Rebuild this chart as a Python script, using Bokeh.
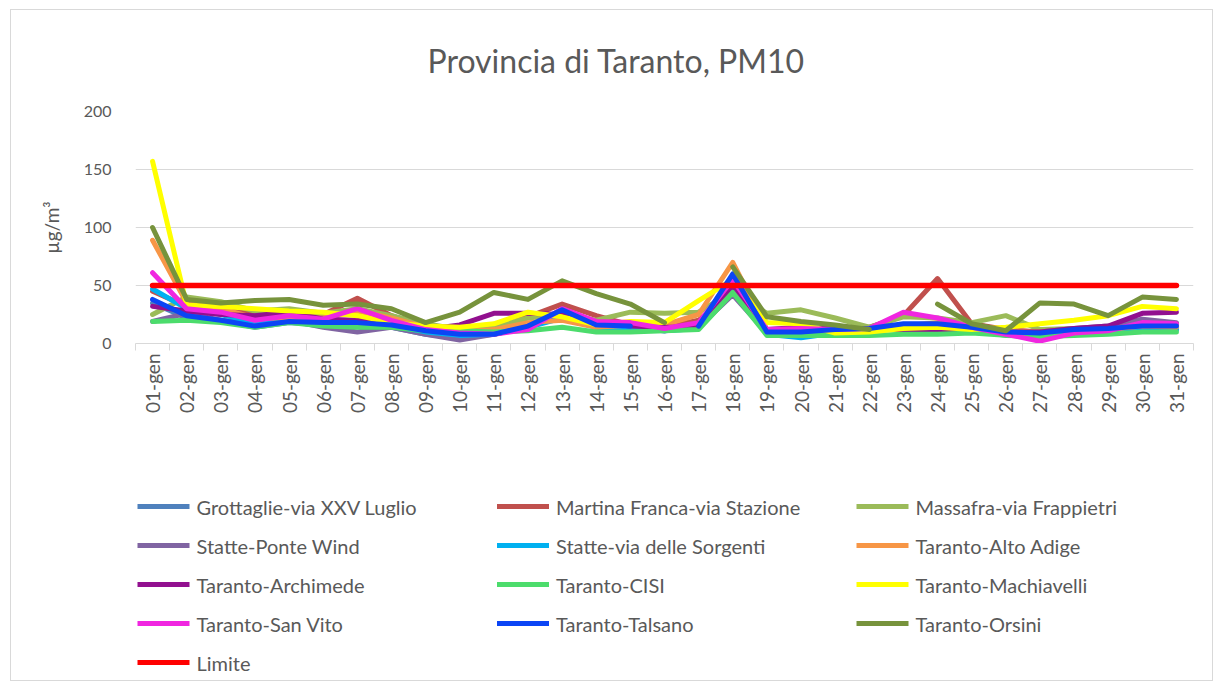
import numpy as np
from bokeh.plotting import figure
from bokeh.layouts import column
from bokeh.models import Range1d, FixedTicker, ColumnDataSource
from bokeh.core.properties import value
from bokeh.embed import file_html
from bokeh.resources import INLINE

days = [f"{d:02d}-gen" for d in range(1, 32)]
N = np.nan

grottaglie = [35, 22, 20, 14, 18, 16, 17, 14, 8, 5, 8, 14, 26, 14, 14, 11, 15, 48, 10, 8, 10, 11, 15, 14, 11, 7, 8, 10, 11, 13, 12]
martina = [45, 32, 30, 26, 28, 25, 39, 24, 14, 11, 15, 23, 34, 24, 16, 14, 20, 46, 12, 12, 14, 14, 24, 56, 17, 12, 10, 12, 14, 17, 17]
massafra = [25, 40, 36, 28, 30, 26, 30, 24, 17, 12, 14, 22, 25, 20, 27, 26, 27, 45, 26, 29, 22, 14, 23, 22, 18, 24, 12, 13, 14, 16, 15]
statte_ponte = [19, 26, 20, 17, 20, 14, 10, 14, 8, 3, 8, 14, 24, 15, 13, 11, 14, 42, 9, 9, 9, 10, 14, 13, 11, 8, 10, 13, 15, 21, 18]
statte_sorgenti = [47, 30, 25, 18, 20, 18, 17, 15, 10, 7, 8, 14, 22, 14, 13, 11, 13, 50, 8, 5, 9, 11, 14, 15, 12, 8, 8, 11, 11, 13, 12]
alto_adige = [89, 35, 30, 22, 22, 22, 28, 22, 14, 10, 12, 18, 20, 14, 16, 16, 25, 70, 12, 10, 12, 12, 15, 18, 14, 11, 10, 12, 12, 15, 14]
archimede = [32, 28, 25, 24, 27, 21, 20, 18, 12, 16, 26, 26, 25, 18, 15, 14, 14, 50, 12, 14, 12, 12, 12, 12, 11, 10, 10, 13, 15, 26, 27]
cisi = [19, 20, 18, 14, 18, 15, 14, 14, 11, 11, 10, 11, 14, 10, 10, 11, 12, 44, 7, 7, 7, 7, 8, 8, 9, 7, 6, 7, 8, 10, 10]
machiavelli = [157, 33, 32, 30, 28, 27, 24, 18, 15, 14, 17, 27, 23, 16, 19, 18, 37, 55, 18, 17, 9, 10, 13, 14, 12, 14, 17, 20, 24, 32, 30]
san_vito = [61, 30, 27, 20, 24, 21, 30, 20, 12, 9, 8, 12, 30, 19, 18, 13, 18, 55, 12, 13, 12, 13, 27, 22, 14, 8, 2, 9, 11, 18, 17]
talsano = [38, 24, 20, 15, 19, 18, 18, 16, 11, 8, 8, 15, 29, 16, 15, N, 15, 60, 10, 10, 12, 13, 17, 17, 14, 10, 9, 12, 13, 15, 15]
orsini = [100, 38, 35, 37, 38, 33, 34, 30, 18, 27, 44, 38, 54, 43, 34, 18, N, 66, 23, 19, 16, 12, N, 34, 17, 11, 35, 34, 24, 40, 38]
limite = [50] * 31

names = ["Grottaglie-via XXV Luglio", "Martina Franca-via Stazione", "Massafra-via Frappietri",
         "Statte-Ponte Wind", "Statte-via delle Sorgenti", "Taranto-Alto Adige",
         "Taranto-Archimede", "Taranto-CISI", "Taranto-Machiavelli",
         "Taranto-San Vito", "Taranto-Talsano", "Taranto-Orsini", "Limite"]
series = [grottaglie, martina, massafra, statte_ponte, statte_sorgenti, alto_adige,
          archimede, cisi, machiavelli, san_vito, talsano, orsini, limite]
colors = ["#4F81BD", "#C0504D", "#9BBB59", "#8064A2", "#00B0F0", "#F79646",
          "#92108F", "#4CDC6C", "#FFFF00", "#F026E0", "#0B45F5", "#77933C", "#FF0000"]

FONT = "Lato"
TXT = "#595959"
GRID = "#d9d9d9"
W = 1201
BL, BR = 124, 19

x = list(range(1, len(days) + 1))

p = figure(width=W, height=410, output_backend="svg", toolbar_location=None,
           x_range=Range1d(0.5, len(days) + 0.5), y_range=Range1d(0, 200),
           min_border_left=BL, min_border_right=BR, min_border_top=101, min_border_bottom=77)
p.outline_line_color = None
p.background_fill_color = "white"
p.border_fill_color = "white"

p.title.text = "Provincia di Taranto, PM10"
p.title.align = "left"
p.title.offset = 292
p.title.vertical_align = "top"
p.title.standoff = 60
p.title.text_font = FONT
p.title.text_font_size = "32px"
p.title.text_font_style = "normal"
p.title.text_color = TXT

# x axis: labels at category centres, tick marks between categories
p.xaxis.ticker = FixedTicker(ticks=x, minor_ticks=[i + 0.5 for i in range(0, len(days) + 1)])
p.xaxis.major_label_overrides = {i: d for i, d in zip(x, days)}
p.xaxis.major_label_orientation = np.pi / 2
p.xaxis.major_tick_line_color = None
p.xaxis.major_tick_out = 8
p.xaxis.major_tick_in = 0
p.xaxis.minor_tick_line_color = GRID
p.xaxis.minor_tick_out = 7
p.xaxis.minor_tick_in = 0
p.xaxis.axis_line_color = GRID
p.xaxis.major_label_standoff = 2
p.xaxis.major_label_text_font = FONT
p.xaxis.major_label_text_font_size = "19px"
p.xaxis.major_label_text_color = TXT
p.xgrid.grid_line_color = None

p.yaxis.ticker = FixedTicker(ticks=[0, 50, 100, 150, 200])
p.yaxis.axis_line_color = None
p.yaxis.major_tick_line_color = None
p.yaxis.minor_tick_line_color = None
p.yaxis.major_tick_out = 0
p.yaxis.major_label_standoff = 24
p.yaxis.major_label_text_font = FONT
p.yaxis.major_label_text_font_size = "16px"
p.yaxis.major_label_text_color = TXT
p.yaxis.axis_label = "µg/m³"
p.yaxis.axis_label_text_font = FONT
p.yaxis.axis_label_text_font_size = "19px"
p.yaxis.axis_label_text_font_style = "normal"
p.yaxis.axis_label_text_color = TXT
p.yaxis.axis_label_standoff = 18
p.ygrid.grid_line_color = GRID
p.ygrid.grid_line_width = 1

for name, vals, col in zip(names, series, colors):
    src = ColumnDataSource(dict(x=x, y=np.array(vals, dtype=float)))
    p.line("x", "y", source=src, line_color=col, line_width=5.5 if name == "Limite" else 5,
           line_join="round", line_cap="round")

# legend panel: a second figure (its frame is aligned with the chart's frame by the column);
# its data space is in figure pixels (y downward)
H2 = 260
p2 = figure(width=W, height=H2, output_backend="svg", toolbar_location=None,
            x_range=Range1d(BL, W - BR), y_range=Range1d(H2, 0),
            x_axis_type=None, y_axis_type=None,
            min_border=0, min_border_left=BL, min_border_right=BR,
            min_border_top=0, min_border_bottom=0)
p2.outline_line_color = None
p2.grid.visible = False
p2.background_fill_color = "white"
p2.border_fill_color = "white"

NCOL = 3
COL_W = 359.5
X0, Y0, ROW_H = 126, 86, 39
GLYPH_W, TEXT_GAP = 52, 59
idx = np.arange(len(names))
lx0 = X0 + (idx % NCOL) * COL_W
ly = Y0 + (idx // NCOL) * ROW_H
leg = ColumnDataSource(dict(x0=lx0, x1=lx0 + GLYPH_W, y=ly, tx=lx0 + TEXT_GAP,
                            label=names, color=colors))
p2.segment(x0="x0", y0="y", x1="x1", y1="y", source=leg, line_color="color", line_width=5)
p2.text(x="tx", y="y", text="label", source=leg, text_font=value(FONT),
        text_font_size=value("20px"), text_color=TXT, text_baseline="middle", text_align="left")

layout = column(p, p2, spacing=0,
                styles={"border": "1px solid #d9d9d9", "margin-left": "10px", "margin-top": "9px"})

open("out.html", "w").write(file_html(layout, INLINE))
